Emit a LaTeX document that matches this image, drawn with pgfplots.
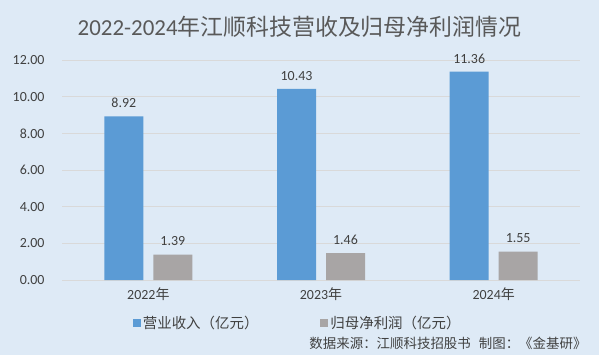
\documentclass[border=0pt]{standalone}
\usepackage{fontspec}
\setmainfont{Carlito}
\newfontfamily\cjk{Noto Sans CJK SC}
\usepackage{pgfplots}
\pgfplotsset{compat=1.18}
\definecolor{bg}{RGB}{222,234,246}
\definecolor{barblue}{RGB}{91,155,213}
\definecolor{bargray}{RGB}{168,165,165}
\definecolor{txt}{RGB}{64,64,64}
\definecolor{ttl}{RGB}{89,89,89}
\definecolor{grd}{RGB}{217,217,217}
\begin{document}
\begin{tikzpicture}[x=1bp,y=1bp]
\fill[bg] (0,0) rectangle (599,355);
\useasboundingbox (0,0) rectangle (599,355);
\begin{axis}[
  at={(62bp,75bp)}, anchor=south west,
  scale only axis, width=518bp, height=220bp,
  xmin=-0.5, xmax=2.5, ymin=0, ymax=12,
  ytick={0,2,...,12},
  xtick={0,1,2},
  xticklabels={2022{\cjk 年},2023{\cjk 年},2024{\cjk 年}},
  axis line style={draw=none},
  major tick length=0pt,
  ymajorgrids, grid style={grd, line width=0.8pt},
  /pgf/number format/assume math mode=true,
  yticklabel={\pgfmathprintnumber[fixed,fixed zerofill,precision=2]{\tick}},
  yticklabel style={font=\fontsize{14}{16}\selectfont, text=txt, xshift=-14bp},
  xticklabel style={font=\fontsize{14}{16}\selectfont, text=txt, yshift=-4bp},
  ybar, bar width=39bp,
  nodes near coords={\pgfmathprintnumber[fixed,fixed zerofill,precision=2,assume math mode=true]{\pgfplotspointmeta}},
  nodes near coords style={font=\fontsize{14}{16}\selectfont, text=txt, yshift=5bp},
  legend style={at={(0.455,-0.195)}, anchor=center, draw=none, fill=none, legend columns=2, font=\fontsize{14.5}{16}\selectfont\cjk, text=txt, /tikz/every even column/.append style={column sep=60bp}},
  legend image code/.code={\fill[#1] (0bp,-4bp) rectangle (8bp,4bp);},
]
\addplot[fill=barblue, draw=none, bar shift=-24.5bp] coordinates {(0,8.92) (1,10.43) (2,11.36)};
\addplot[fill=bargray, draw=none, bar shift=24.5bp] coordinates {(0,1.39) (1,1.46) (2,1.55)};
\legend{营业收入（亿元）,归母净利润（亿元）}
\end{axis}
\node[text=ttl, font=\fontsize{23}{26}\selectfont] at (299.5,328) {2022-2024{\cjk 年江顺科技营收及归母净利润情况}};
\node[anchor=east, text=txt, font=\fontsize{13.5}{15}\selectfont\cjk] at (590,12) {数据来源：江顺科技招股书\hspace{8bp}制图：《金基研》};
\end{tikzpicture}
\end{document}
